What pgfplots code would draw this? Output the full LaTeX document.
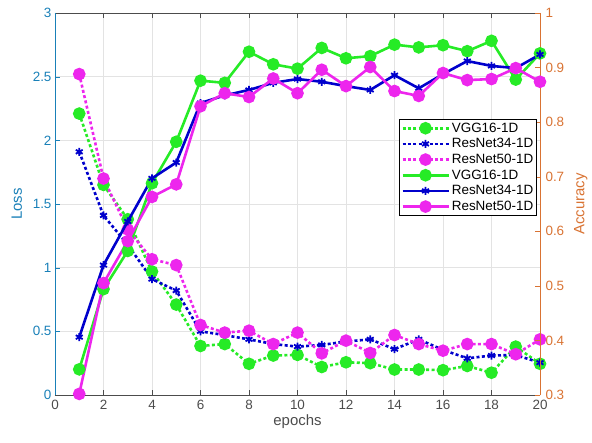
\documentclass[border=0pt]{standalone}
\usepackage{fontspec}
\setmainfont{Liberation Sans}
\usepackage{pgfplots}
\pgfplotsset{compat=1.18}
\definecolor{lossc}{rgb}{0.1,0.5,0.72}
\definecolor{accc}{rgb}{0.85,0.45,0.2}
\definecolor{axgray}{rgb}{0.3,0.3,0.3}
\definecolor{vgg}{rgb}{0.15,0.92,0.15}
\definecolor{rnA}{rgb}{0,0,0.8}
\definecolor{rnB}{rgb}{0.93,0.15,0.93}

\pgfplotstableread{
ep vgg rnA rnB
1  2.21  1.91  2.52
2  1.65  1.41  1.70
3  1.38  1.18  1.30
4  0.97  0.91  1.066
5  0.71  0.82  1.02
6  0.385 0.50  0.55
7  0.40  0.47  0.49
8  0.245 0.437 0.505
9  0.31  0.40  0.40
10 0.315 0.38  0.49
11 0.22  0.393 0.327
12 0.257 0.42  0.427
13 0.25  0.437 0.33
14 0.20  0.36  0.471
15 0.20  0.437 0.40
16 0.195 0.354 0.348
17 0.228 0.288 0.40
18 0.175 0.31  0.40
19 0.38  0.314 0.32
20 0.245 0.254 0.437
}\losstab

\pgfplotstableread{
ep vgg rnA rnB
1  0.347 0.406 0.302
2  0.494 0.538 0.505
3  0.564 0.618 0.582
4  0.688 0.697 0.663
5  0.764 0.726 0.686
6  0.876 0.835 0.829
7  0.872 0.849 0.853
8  0.929 0.859 0.846
9  0.906 0.872 0.880
10 0.898 0.879 0.853
11 0.936 0.874 0.896
12 0.917 0.866 0.866
13 0.921 0.859 0.901
14 0.942 0.886 0.857
15 0.937 0.862 0.848
16 0.941 0.888 0.890
17 0.930 0.912 0.877
18 0.949 0.903 0.879
19 0.878 0.899 0.899
20 0.926 0.924 0.874
}\acctab

\begin{document}
\begin{tikzpicture}
\pgfplotsset{
  base/.style={
    scale only axis, width=485bp, height=382bp,
    xmin=0, xmax=20, xtick={0,2,...,20},
    tick align=inside, major tick length=5bp,
    ticklabel style={font=\fontsize{13.5}{15}\selectfont},
    label style={font=\fontsize{15}{17}\selectfont},
    /pgf/number format/assume math mode=true,
  },
  dsh/.style={line width=2.6bp, dash pattern=on 3bp off 2.4bp},
  sld/.style={line width=2.6bp, solid},
  mk/.style={mark options={solid, fill=#1}},
}
\begin{axis}[base, name=ax,
  axis y line*=left, axis x line*=box,
  ymin=0, ymax=3, ytick={0,0.5,...,3},
  grid=major, grid style={gray!22, line width=0.5bp},
  x axis line style={axgray, line width=0.6bp},
  x tick style={axgray},
  x tick label style={axgray, yshift=-1.5bp},
  xlabel={epochs}, xlabel style={axgray, yshift=2bp},
  y axis line style={lossc, line width=0.6bp},
  y tick style={lossc},
  y tick label style={lossc},
  ylabel={Loss}, ylabel style={lossc, yshift=4bp},
]
\addplot[vgg, dsh, mark=*, mark size=5bp, mk=vgg] table[x=ep, y=vgg] {\losstab};
\addplot[rnA, dsh, mark=asterisk, mark size=4bp, mark options={solid, line width=1.8bp}] table[x=ep, y=rnA] {\losstab};
\addplot[rnB, dsh, mark=*, mark size=5bp, mk=rnB] table[x=ep, y=rnB] {\losstab};
\end{axis}
\begin{axis}[base,
  axis y line*=right, axis x line=none,
  ymin=0.3, ymax=1, ytick={0.3,0.4,...,1.0},
  y axis line style={accc, line width=0.6bp},
  y tick style={accc},
  y tick label style={accc, xshift=2bp},
  ylabel={Accuracy}, ylabel style={accc, yshift=-3bp},
  legend style={at={(0.994,0.7225)}, anchor=north east,
    font=\fontsize{13.5}{15}\selectfont, draw=black, line width=0.6bp,
    inner sep=1.5bp, row sep=0.8bp},
  legend cell align=left,
  legend image code/.code={\draw[mark repeat=2, mark phase=2] plot coordinates {(0bp,0bp) (23bp,0bp) (46bp,0bp)};},
]
\addlegendimage{vgg, dsh, mark=*, mark size=5bp, mk=vgg}
\addlegendentry{VGG16-1D}
\addlegendimage{rnA, dsh, mark=asterisk, mark size=4bp, mark options={solid, line width=1.8bp}}
\addlegendentry{ResNet34-1D}
\addlegendimage{rnB, dsh, mark=*, mark size=5bp, mk=rnB}
\addlegendentry{ResNet50-1D}
\addplot[vgg, sld, mark=*, mark size=5bp, mk=vgg] table[x=ep, y=vgg] {\acctab};
\addlegendentry{VGG16-1D}
\addplot[rnA, sld, mark=asterisk, mark size=4bp, mark options={solid, line width=1.8bp}] table[x=ep, y=rnA] {\acctab};
\addlegendentry{ResNet34-1D}
\addplot[rnB, sld, mark=*, mark size=5bp, mk=rnB] table[x=ep, y=rnB] {\acctab};
\addlegendentry{ResNet50-1D}
\end{axis}
\pgfresetboundingbox
\path ([xshift=-55bp, yshift=-48bp]ax.south west) rectangle ([xshift=52bp, yshift=13bp]ax.north east);
\end{tikzpicture}
\end{document}
